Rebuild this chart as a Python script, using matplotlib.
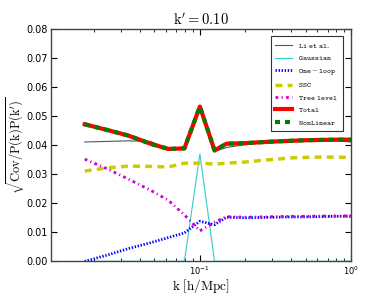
import matplotlib
matplotlib.use("Agg")
import matplotlib.pyplot as plt
import numpy as np

plt.rcParams['mathtext.fontset'] = 'cm'

k = [0.0173, 0.0245, 0.0337, 0.0471, 0.0619, 0.079, 0.1, 0.125, 0.15, 0.2, 0.25, 0.32, 0.4, 0.5, 0.63, 0.8, 1.0]
li_et_al = [0.0411, 0.0413, 0.0415, 0.0413, 0.0386, 0.0387, 0.0531, 0.0378, 0.0392, 0.0402, 0.0407, 0.0411, 0.0413, 0.0415, 0.0416, 0.0415, 0.0411]
gaussian = [0, 0, 0, 0, 0, 0, 0.037, 0, 0, 0, 0, 0, 0, 0, 0, 0, 0]
one_loop = [0.0, 0.0022, 0.0044, 0.0064, 0.0082, 0.0098, 0.0138, 0.0126, 0.0152, 0.0150, 0.0151, 0.0152, 0.0153, 0.0153, 0.0154, 0.0155, 0.0155]
ssc = [0.0311, 0.0322, 0.0328, 0.0327, 0.0325, 0.0338, 0.0338, 0.0335, 0.0338, 0.0342, 0.0347, 0.0352, 0.0356, 0.0358, 0.0359, 0.0359, 0.0357]
tree_level = [0.0352, 0.0318, 0.0283, 0.0245, 0.0210, 0.0160, 0.0105, 0.0135, 0.0154, 0.0152, 0.0153, 0.0154, 0.0155, 0.0155, 0.0156, 0.0156, 0.0157]
total = [0.0472, 0.0452, 0.0433, 0.0405, 0.0387, 0.0389, 0.0533, 0.0382, 0.0405, 0.0407, 0.0410, 0.0413, 0.0415, 0.0417, 0.0418, 0.0419, 0.0419]
nonlinear = total

fig = plt.figure(figsize=(3.9, 2.93), dpi=100)
ax = fig.add_axes([0.13, 0.108, 0.77, 0.793])

ax.plot(k, li_et_al, color='#555555', lw=0.8, label=r'$\mathtt{Li\ et\ al.}$')
ax.plot(k, gaussian, color='#33cccc', lw=0.8, label=r'$\mathtt{Gaussian}$')
ax.plot(k, one_loop, color='blue', lw=2.0, ls=(0, (0.5, 0.6)), label=r'$\mathtt{One-loop}$')
ax.plot(k, ssc, color='#cccc00', lw=2.5, ls=(0, (2, 1.5)), label=r'$\mathtt{SSC}$')
ax.plot(k, tree_level, color='#cc00cc', lw=2.0, ls=(0, (1, 1.2, 0.4, 1.2)), label=r'$\mathtt{Tree\ level}$')
ax.plot(k, total, color='red', lw=3.0, label=r'$\mathtt{Total}$')
ax.plot(k, nonlinear, color='green', lw=3.0, ls=(0, (1.2, 1.2)), label=r'$\mathtt{NonLinear}$')

ax.set_xscale('log')
ax.set_xlim(0.0103, 1.0)
ax.set_ylim(0.0, 0.08)
ax.set_yticks(np.arange(0, 0.081, 0.01))
ax.set_yticklabels(['%.2f' % v for v in np.arange(0, 0.081, 0.01)])
ax.tick_params(axis='both', which='both', direction='in', top=True, right=True, labelsize=7)
ax.tick_params(axis='x', which='major', labelsize=6, length=4, pad=2)
ax.tick_params(axis='x', which='minor', length=2)
ax.tick_params(axis='y', length=4, pad=2)
for s in ax.spines.values():
    s.set_color('#444444')
    s.set_linewidth(1.0)

ax.set_title(r'$\mathrm{k^{\prime}=0.10}$', fontsize=10.5, pad=3)
ax.set_xlabel(r'$\mathrm{k}\ \left[\mathrm{h/Mpc}\right]$', fontsize=9.5, labelpad=0)
ax.set_ylabel(r'$\sqrt{\mathrm{Cov/P(k)P(k^{\prime})}}$', fontsize=9)
ax.yaxis.set_label_coords(-0.08, 0.5)

leg = ax.legend(loc='upper right', fontsize=5.5, fancybox=False, framealpha=1.0,
                edgecolor='#333333', handlelength=2.2, borderpad=0.6, labelspacing=0.45,
                bbox_to_anchor=(0.985, 0.985))
leg.get_frame().set_linewidth(0.8)

fig.savefig('out.png', dpi=100)
